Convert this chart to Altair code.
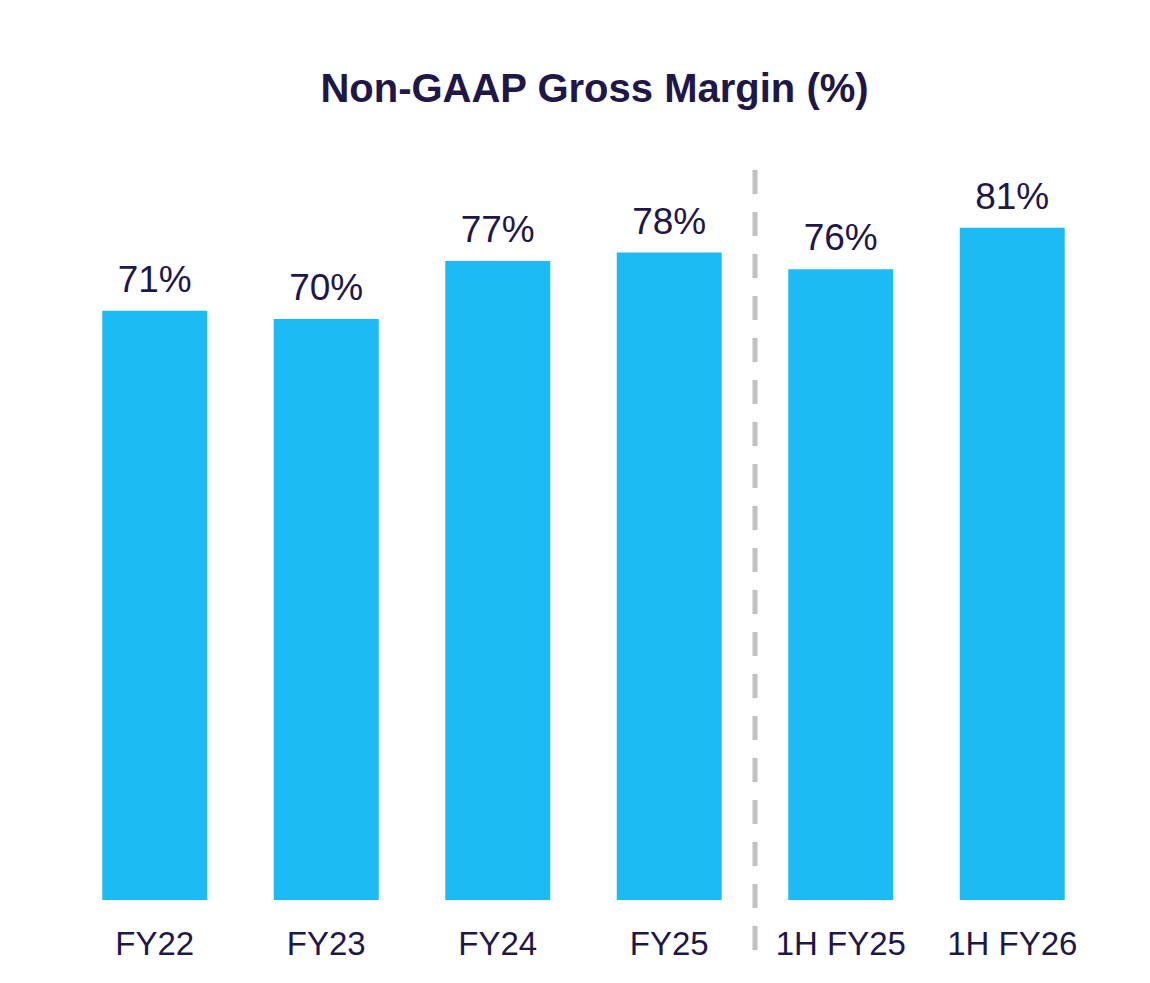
import altair as alt
import pandas as pd

categories = ["FY22", "FY23", "FY24", "FY25", "1H FY25", "1H FY26"]
margins = [71, 70, 77, 78, 76, 81]
labels = ["71%", "70%", "77%", "78%", "76%", "81%"]
divider_after = ["FY25"]

df = pd.DataFrame({"cat": categories, "val": margins, "lab": labels})
div_df = pd.DataFrame({"cat": divider_after})

NAVY = "#1F1747"
FONT = "Liberation Sans"

xscale = alt.Scale(domain=categories, paddingInner=0.388, paddingOuter=0.194)
yscale = alt.Scale(domain=[0, 89.16], nice=False, zero=True)

x = alt.X("cat:N", scale=xscale, sort=categories,
          axis=alt.Axis(title=None, domain=False, ticks=False, labelAngle=0,
                        labelFontSize=33, labelColor=NAVY, labelFont=FONT,
                        labelPadding=28))
y = alt.Y("val:Q", scale=yscale, axis=None)

bars = alt.Chart(df).mark_bar(color="#1DBBF3").encode(x=x, y=y)
text = alt.Chart(df).mark_text(fontSize=37, color=NAVY, font=FONT,
                               baseline="alphabetic", dy=-19).encode(
    x=alt.X("cat:N", scale=xscale, sort=categories), y=y, text="lab:N")
divider = alt.Chart(div_df).mark_rule(color="#C2C2C2", strokeWidth=5,
                                     strokeDash=[24, 18], xOffset=85.75).encode(
    x=alt.X("cat:N", scale=xscale, sort=categories),
    y=alt.value(10), y2=alt.value(790))

chart = alt.layer(bars, text, divider).properties(
    width=1029, height=740,
    title=alt.TitleParams("Non-GAAP Gross Margin (%)", fontSize=40, font=FONT,
                          fontWeight="bold", color=NAVY, anchor="middle",
                          dx=11, offset=50),
    autosize=alt.AutoSizeParams(type="none"),
    padding={"left": 61, "top": 152, "right": 44, "bottom": 75},
).configure(background="white").configure_view(strokeWidth=0, stroke="transparent")

chart.save("out.html", embed_options={"renderer": "svg", "actions": False})
